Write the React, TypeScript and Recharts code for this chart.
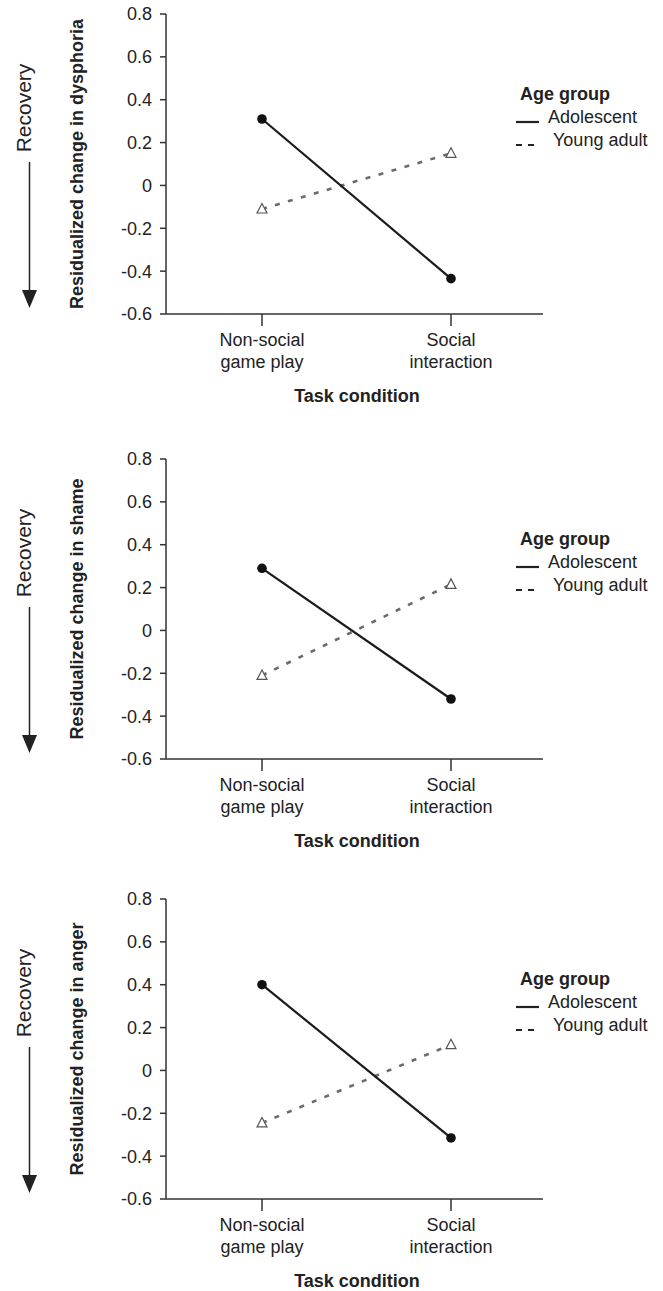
import React from "react";
import { Label, Legend, Line, LineChart, XAxis, YAxis } from "recharts";

const FONT = '"Liberation Sans", Arial, Helvetica, sans-serif';
const INK = "#222";

// task conditions, each split over two tick lines
const conditionLines = [
  ["Non-social", "game play"],
  ["Social", "interaction"],
];
const yTicks = [-0.6, -0.4, -0.2, 0, 0.2, 0.4, 0.6, 0.8];

const dysphoriaAdolescent = [0.31, -0.435];
const dysphoriaYoungAdult = [-0.11, 0.15];
const shameAdolescent = [0.29, -0.32];
const shameYoungAdult = [-0.21, 0.215];
const angerAdolescent = [0.4, -0.315];
const angerYoungAdult = [-0.245, 0.12];

const panelTitles = [
  "Residualized change in dysphoria",
  "Residualized change in shame",
  "Residualized change in anger",
];
const panelTops = [0, 445, 885];

const CircleDot = (p: any) => {
  if (p.cx == null || p.cy == null) return null;
  return <circle key={`c-${p.index}`} cx={p.cx} cy={p.cy} r={4.8} fill="#111" />;
};

const TriangleDot = (p: any) => {
  if (p.cx == null || p.cy == null) return null;
  const { cx, cy } = p;
  return (
    <path
      key={`t-${p.index}`}
      d={`M${cx} ${cy - 5.5} L${cx - 5} ${cy + 4} L${cx + 5} ${cy + 4} Z`}
      fill="#fff"
      stroke="#555"
      strokeWidth={1.2}
    />
  );
};

const ConditionTick = (p: any) => {
  const lines = conditionLines[p.index] || [String(p.payload.value)];
  return (
    <text
      x={p.x}
      y={p.y}
      textAnchor="middle"
      fontFamily={FONT}
      fontSize={18}
      fill={INK}
    >
      <tspan x={p.x} dy={20}>
        {lines[0]}
      </tspan>
      <tspan x={p.x} dy={22}>
        {lines[1]}
      </tspan>
    </text>
  );
};

const renderYLabel = (title: string) => (props: any) => {
  const vb = props.viewBox;
  const top = vb.y;
  const cy = vb.y + vb.height / 2;
  const lx = 83;
  const rx = 31;
  const ry = top + 94;
  return (
    <g>
      <text
        x={lx}
        y={cy}
        transform={`rotate(-90 ${lx} ${cy})`}
        textAnchor="middle"
        fontFamily={FONT}
        fontSize={18}
        fontWeight="bold"
        fill={INK}
      >
        {title}
      </text>
      <text
        x={rx}
        y={ry}
        transform={`rotate(-90 ${rx} ${ry})`}
        textAnchor="middle"
        fontFamily={FONT}
        fontSize={21}
        fill={INK}
      >
        Recovery
      </text>
      <line x1={29.5} y1={top + 148} x2={29.5} y2={top + 280} stroke={INK} strokeWidth={1.5} />
      <path d={`M22 ${top + 276} L37 ${top + 276} L29.5 ${top + 294} Z`} fill={INK} />
    </g>
  );
};

const renderXLabel = (props: any) => {
  const vb = props.viewBox;
  return (
    <text
      x={357}
      y={vb.y + 88}
      textAnchor="middle"
      fontFamily={FONT}
      fontSize={18}
      fontWeight="bold"
      fill={INK}
    >
      Task condition
    </text>
  );
};

const LegendBox = (props: any) => {
  const payload = props.payload || [];
  const order = ["adolescent", "youngAdult"];
  const items = order
    .map((k) => payload.find((e: any) => e.dataKey === k))
    .filter(Boolean);
  return (
    <div style={{ fontFamily: FONT, color: INK, fontSize: 18 }}>
      <div style={{ fontWeight: "bold", lineHeight: "24px", marginLeft: 4 }}>
        Age group
      </div>
      {items.map((e: any) => (
        <div key={e.dataKey} style={{ display: "flex", lineHeight: "23px", height: 23 }}>
          <svg width={23} height={23} style={{ flex: "none" }}>
            <line
              x1={0}
              y1={16}
              x2={e.dataKey === "adolescent" ? 23 : 19}
              y2={16}
              stroke="#222"
              strokeWidth={2.2}
              strokeDasharray={e.dataKey === "adolescent" ? undefined : "6 6"}
            />
          </svg>
          <span style={{ marginLeft: e.dataKey === "adolescent" ? 9 : 14 }}>{e.value}</span>
        </div>
      ))}
    </div>
  );
};

type PanelProps = {
  top: number;
  title: string;
  adolescent: number[];
  youngAdult: number[];
};

const Panel = ({ top, title, adolescent, youngAdult }: PanelProps) => {
  const data = conditionLines.map((lines, i) => ({
    condition: lines.join(" "),
    adolescent: adolescent[i],
    youngAdult: youngAdult[i],
  }));
  return (
    <div style={{ position: "absolute", left: 0, top }}>
      <LineChart
        width={663}
        height={406}
        data={data}
        margin={{ top: 14, right: 120, bottom: 0, left: 0 }}
      >
        <XAxis
          dataKey="condition"
          padding={{ left: 96, right: 92 }}
          height={92}
          tickSize={12}
          tickMargin={0}
          interval={0}
          tick={<ConditionTick />}
          axisLine={{ stroke: "#333", strokeWidth: 1.5 }}
          tickLine={{ stroke: "#333", strokeWidth: 1.5 }}
        >
          <Label content={renderXLabel} />
        </XAxis>
        <YAxis
          width={166}
          domain={[-0.6, 0.8]}
          ticks={yTicks}
          interval={0}
          tickSize={6}
          tickMargin={8}
          tickFormatter={(v: number) => (v === 0 ? "0" : v.toFixed(1))}
          tick={{ fill: INK, fontSize: 18, fontFamily: FONT }}
          axisLine={{ stroke: "#333", strokeWidth: 1.5 }}
          tickLine={{ stroke: "#333", strokeWidth: 1.5 }}
        >
          <Label content={renderYLabel(title)} />
        </YAxis>
        <Legend
          layout="vertical"
          align="center"
          verticalAlign="middle"
          content={<LegendBox />}
          wrapperStyle={{ left: 516, top: 82, width: 147 }}
        />
        <Line
          dataKey="youngAdult"
          name="Young adult"
          stroke="#6b6b6b"
          strokeWidth={2.6}
          strokeDasharray="5 8.5"
          dot={TriangleDot}
          activeDot={false}
          isAnimationActive={false}
        />
        <Line
          dataKey="adolescent"
          name="Adolescent"
          stroke="#1a1a1a"
          strokeWidth={2.2}
          dot={CircleDot}
          activeDot={false}
          isAnimationActive={false}
        />
      </LineChart>
    </div>
  );
};

export default function App() {
  return (
    <div
      style={{
        position: "absolute",
        left: 0,
        top: 0,
        width: 663,
        height: 1291,
        overflow: "hidden",
        background: "#fff",
      }}
    >
      <Panel
        top={panelTops[0]}
        title={panelTitles[0]}
        adolescent={dysphoriaAdolescent}
        youngAdult={dysphoriaYoungAdult}
      />
      <Panel
        top={panelTops[1]}
        title={panelTitles[1]}
        adolescent={shameAdolescent}
        youngAdult={shameYoungAdult}
      />
      <Panel
        top={panelTops[2]}
        title={panelTitles[2]}
        adolescent={angerAdolescent}
        youngAdult={angerYoungAdult}
      />
    </div>
  );
}
